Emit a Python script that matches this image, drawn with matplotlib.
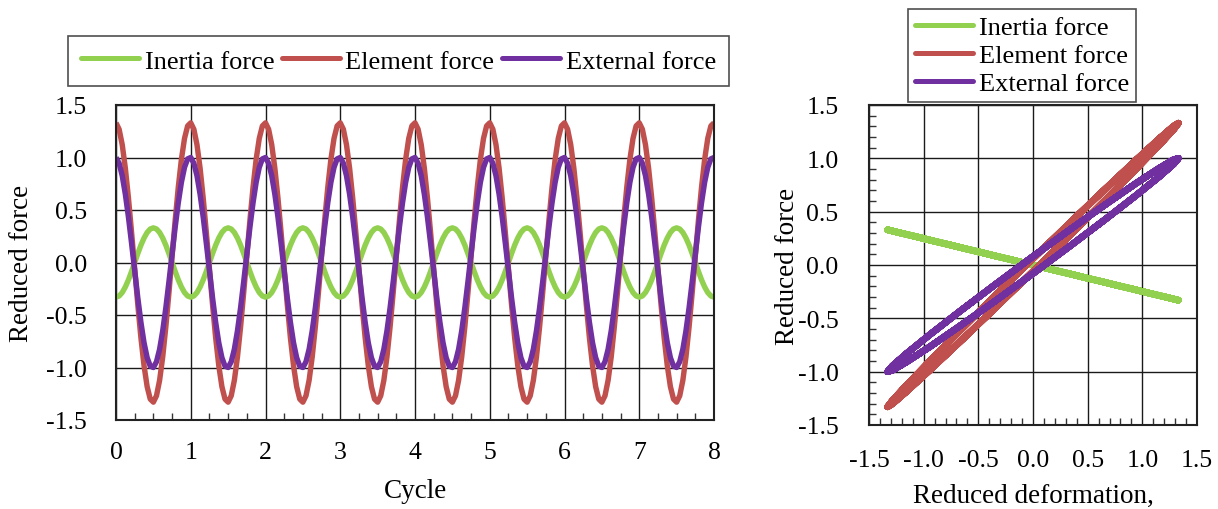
import numpy as np
import matplotlib
matplotlib.use("Agg")
import matplotlib.pyplot as plt
from matplotlib.ticker import MultipleLocator, FormatStrFormatter

n_cycles = 8
deformation_cycle = [1.330, 1.285, 1.152, 0.940, 0.665, 0.344, 0.000, -0.344,
                     -0.665, -0.940, -1.152, -1.285, -1.330, -1.285, -1.152, -0.940,
                     -0.665, -0.344, 0.000, 0.344, 0.665, 0.940, 1.152, 1.285]
inertia_cycle = [-0.330, -0.319, -0.286, -0.233, -0.165, -0.085, 0.000, 0.085,
                 0.165, 0.233, 0.286, 0.319, 0.330, 0.319, 0.286, 0.233,
                 0.165, 0.085, 0.000, -0.085, -0.165, -0.233, -0.286, -0.319]
element_cycle = [1.330, 1.269, 1.122, 0.898, 0.613, 0.286, -0.060, -0.402,
                 -0.717, -0.982, -1.182, -1.301, -1.330, -1.269, -1.122, -0.898,
                 -0.613, -0.286, 0.060, 0.402, 0.717, 0.982, 1.182, 1.301]
external_cycle = [1.000, 0.945, 0.826, 0.650, 0.431, 0.182, -0.080, -0.336,
                  -0.569, -0.764, -0.906, -0.987, -1.000, -0.945, -0.826, -0.650,
                  -0.431, -0.182, 0.080, 0.336, 0.569, 0.764, 0.906, 0.987]

series_names = ["Inertia force", "Element force", "External force"]
colors = ["#92D050", "#C0504D", "#7030A0"]

def full(cycle):
    arr = np.tile(np.asarray(cycle), n_cycles)
    return np.append(arr, cycle[0])

npc = len(deformation_cycle)
cycle_t = np.arange(npc * n_cycles + 1) / npc
defo = full(deformation_cycle)
forces = [full(inertia_cycle), full(element_cycle), full(external_cycle)]

plt.rcParams['font.family'] = ['Liberation Serif', 'DejaVu Serif']
plt.rcParams['font.size'] = 19

W, H = 1218, 510
fig = plt.figure(figsize=(W / 100, H / 100), dpi=100)

def frac(x0, y0, x1, y1):
    return [x0 / W, 1 - y1 / H, (x1 - x0) / W, (y1 - y0) / H]

grid_kw = dict(color='#1a1a1a', linewidth=1.0)
TICK_FS = 18.5
LABEL_FS = 19.5
LEG_FS = 19

def style_legend(leg):
    leg.get_frame().set_linewidth(1.2)
    for l in leg.get_lines():
        l.set_linewidth(3.6)
        l.set_solid_capstyle('round')

# ---------------- left panel ----------------
ax1 = fig.add_axes(frac(116, 106, 714, 421))
for f, c, name in zip(forces, colors, series_names):
    ax1.plot(cycle_t, f, color=c, lw=3.9, label=name, solid_joinstyle='round',
             solid_capstyle='butt')
ax1.set_xlim(0, 8)
ax1.set_ylim(-1.5, 1.5)
ax1.xaxis.set_major_locator(MultipleLocator(1))
ax1.xaxis.set_minor_locator(MultipleLocator(0.25))
ax1.yaxis.set_major_locator(MultipleLocator(0.5))
ax1.yaxis.set_major_formatter(FormatStrFormatter('%.1f'))
ax1.grid(True, which='major', **grid_kw)
ax1.tick_params(which='major', length=0, labelsize=TICK_FS)
ax1.tick_params(axis='x', which='minor', direction='in', length=5, width=1, color='#333333')
ax1.tick_params(axis='y', which='major', pad=21)
ax1.tick_params(axis='x', which='major', pad=15)
for s in ax1.spines.values():
    s.set_linewidth(1.5)
    s.set_color('#222222')
ax1.set_xlabel('Cycle', fontsize=LABEL_FS)
ax1.set_ylabel('Reduced force', fontsize=LABEL_FS)
ax1.xaxis.set_label_coords(0.5, -0.185)
ax1.yaxis.set_label_coords(-0.137, 0.5)
leg1 = ax1.legend(loc='upper left', bbox_to_anchor=(68 / W, 1 - 37 / H),
                  bbox_transform=fig.transFigure, ncol=3,
                  frameon=True, fancybox=False, edgecolor='#222222',
                  handlelength=2.2, handletextpad=0.2, columnspacing=0.3,
                  borderpad=0.5, borderaxespad=0.0, fontsize=LEG_FS)
style_legend(leg1)

# ---------------- right panel ----------------
ax2 = fig.add_axes(frac(869, 106, 1197, 426))
for f, c, name in zip(forces, colors, series_names):
    ax2.plot(defo, f, color=c, lw=4.7, label=name, solid_joinstyle='round',
             solid_capstyle='round')
ax2.set_xlim(-1.5, 1.5)
ax2.set_ylim(-1.5, 1.5)
for axis in (ax2.xaxis, ax2.yaxis):
    axis.set_major_locator(MultipleLocator(0.5))
    axis.set_minor_locator(MultipleLocator(0.1))
    axis.set_major_formatter(FormatStrFormatter('%.1f'))
ax2.grid(True, which='major', **grid_kw)
ax2.tick_params(which='major', length=0, labelsize=TICK_FS)
ax2.tick_params(which='minor', direction='in', length=5, width=1, color='#333333')
ax2.tick_params(axis='y', which='major', pad=22)
ax2.tick_params(axis='x', which='major', pad=17)
for s in ax2.spines.values():
    s.set_linewidth(1.5)
    s.set_color('#222222')
ax2.set_xlabel('Reduced deformation,', fontsize=LABEL_FS)
ax2.set_ylabel('Reduced force', fontsize=LABEL_FS)
ax2.xaxis.set_label_coords(0.5, -0.18)
ax2.yaxis.set_label_coords(-0.21, 0.5)
leg2 = ax2.legend(loc='upper left', bbox_to_anchor=(908 / W, 1 - 10 / H),
                  bbox_transform=fig.transFigure, ncol=1,
                  frameon=True, fancybox=False, edgecolor='#222222',
                  handlelength=2.2, handletextpad=0.25, labelspacing=0.17,
                  borderpad=0.25, borderaxespad=0.0, fontsize=LEG_FS)
style_legend(leg2)

fig.savefig('out.png', dpi=100)
